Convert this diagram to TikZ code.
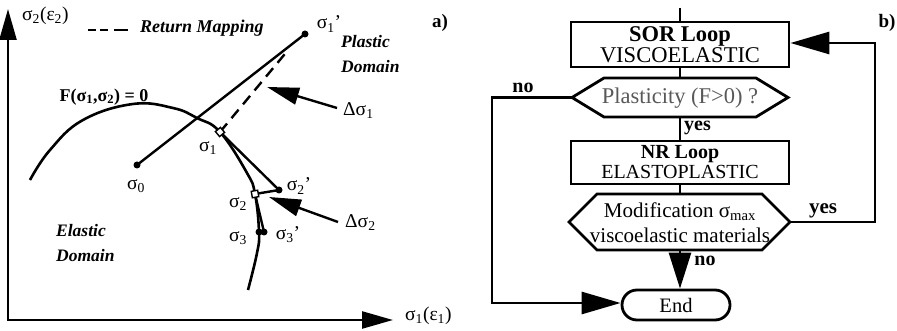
\documentclass[tikz,border=0pt]{standalone}
\usepackage{fontspec}
\setmainfont{Liberation Serif}
\usetikzlibrary{arrows.meta}
\begin{document}
\begin{tikzpicture}[x=1pt,y=-1pt,line width=2.4pt,
  axboth/.style={{Triangle[length=31pt,width=17pt]}-{Triangle[length=31pt,width=17pt]}},
  dtip/.style={-{Triangle[length=32pt,width=17pt]}},
  ftip/.style={-{Triangle[length=39pt,width=22pt]}},
  dot/.style={circle,fill,inner sep=0pt,minimum size=7pt},
  sq/.style={draw,fill=white,line width=1.4pt,inner sep=0pt,minimum size=6.5pt},
  lbl/.style={font=\fontsize{19.5}{20}\selectfont,inner sep=0pt},
  bi/.style={font=\fontsize{17.5}{25}\selectfont\bfseries\itshape,inner sep=0pt},
  bfl/.style={font=\fontsize{18}{20}\selectfont\bfseries,inner sep=0pt},
  fbox/.style={draw,line width=2.8pt,inner sep=0pt,align=center},
  fline/.style={line width=2.8pt}]
\useasboundingbox (0,0) rectangle (897,331);
% ---------- panel a ----------
\coordinate (O) at (8,320);
\coordinate (Ytip) at (8,9);
\coordinate (Xtip) at (393,320);
\draw[axboth] (Ytip) -- (O) -- (Xtip);
\node[lbl,anchor=west] (ylab) at (21,16) {σ\textsubscript{2}(ε\textsubscript{2})};
\node[lbl,anchor=west] (xlab) at (404,316) {σ\textsubscript{1}(ε\textsubscript{1})};
\node[bfl,font=\fontsize{19}{20}\selectfont\bfseries] (alab) at (440,23) {a)};
\coordinate (lg1) at (88,30);
\coordinate (lg2) at (130,30);
\draw[dash pattern=on 8pt off 4pt on 8pt off 6pt on 14pt] (lg1) -- (lg2);
\node[bi,font=\fontsize{18}{20}\selectfont\bfseries\itshape,anchor=west] (rm) at (139,28) {Return Mapping};
% yield surface
\draw[line width=2.6pt] plot[smooth,tension=0.7] coordinates {(30,180) (50,150) (83,120) (133,104) (173,108) (197,118) (220,132) (247,173) (255,194) (259,232) (257,253) (248,290)};
\node[bfl] (flab) at (104,97) {F(σ\textsubscript{1},σ\textsubscript{2}) = 0};
% points
\coordinate (s0) at (137,165);
\coordinate (s1p) at (305,34);
\coordinate (s1) at (220,132);
\coordinate (s2p) at (279,190);
\coordinate (s2) at (255,194);
\coordinate (s3p) at (264,232);
\coordinate (s3) at (259,232);
\coordinate (rmend) at (289,49);
\draw (s0) -- (s1p);
\draw[dash pattern=on 11pt off 7pt] (s1) -- (rmend);
\draw (s1) -- (s2p) -- (s2);
\draw (s2) -- (s3p) -- (s3);
\node[dot] (d0) at (s0) {};
\node[dot] (d1p) at (s1p) {};
\node[dot] (d2p) at (s2p) {};
\node[dot] (d3p) at (s3p) {};
\node[dot] (d3) at (s3) {};
\node[sq,rotate=40] (q1) at (s1) {};
\node[sq,rotate=10] (q2) at (s2) {};
\node[lbl] (l0) at (136,186) {σ\textsubscript{0}};
\node[lbl] (l1) at (208,148) {σ\textsubscript{1}};
\node[lbl] (l1p) at (329,24) {σ\textsubscript{1}’};
\node[lbl] (l2) at (238,204) {σ\textsubscript{2}};
\node[lbl] (l2p) at (299,186) {σ\textsubscript{2}’};
\node[lbl] (l3) at (238,238) {σ\textsubscript{3}};
\node[lbl] (l3p) at (288,235) {σ\textsubscript{3}’};
% increments
\coordinate (d1t) at (267,87);
\coordinate (d1s) at (337,108);
\draw[dtip] (d1s) -- (d1t);
\node[lbl,anchor=west] (dl1) at (342,111) {Δσ\textsubscript{1}};
\coordinate (d2t) at (269,197);
\coordinate (d2s) at (338,222);
\draw[dtip] (d2s) -- (d2t);
\node[lbl,anchor=west] (dl2) at (344,223) {Δσ\textsubscript{2}};
\node[bi,anchor=north west,align=left] (pd) at (340,34) {Plastic\\Domain};
\node[bi,anchor=north west,align=left] (ed) at (55,223) {Elastic\\Domain};
% ---------- panel b ----------
\node[bfl,font=\fontsize{19}{20}\selectfont\bfseries] (blab) at (887,23) {b)};
\coordinate (top) at (680,8);
\node[fbox,minimum width=218pt,minimum height=45pt,font=\fontsize{22.5}{21}\selectfont] (sor) at (680,44.5) {\textbf{SOR Loop}\\VISCOELASTIC};
\draw[fline] (top) -- (sor.north);
% hexagon 1
\coordinate (h1w) at (572,97.5);
\coordinate (h1e) at (788,97.5);
\coordinate (h1n) at (680,78);
\coordinate (h1s) at (680,117);
\draw[fline,fill=white] (h1w) -- (604,78) -- (756,78) -- (h1e) -- (756,117) -- (604,117) -- cycle;
\node[font=\fontsize{22.5}{24}\selectfont,text=black!65,inner sep=0pt] (h1t) at (680,98) {Plasticity (F>0) ?};
\draw[fline] (sor.south) -- (h1n);
\node[fbox,minimum width=218pt,minimum height=43pt,font=\fontsize{20}{20}\selectfont] (nr) at (680,162.5) {\textbf{NR Loop}\\ELASTOPLASTIC};
\draw[fline] (h1s) -- (nr.north);
\node[bfl,anchor=west,font=\fontsize{20}{20}\selectfont\bfseries] (yes1) at (683,128) {yes};
% hexagon 2
\coordinate (h2w) at (569,222);
\coordinate (h2e) at (790,222);
\coordinate (h2n) at (680,194);
\coordinate (h2s) at (680,250);
\draw[fline,fill=white] (h2w) -- (597,194) -- (762,194) -- (h2e) -- (762,250) -- (597,250) -- cycle;
\node[font=\fontsize{21}{25}\selectfont,inner sep=0pt,align=center] (h2t) at (680,223) {Modification σ\textsubscript{max}\\viscoelastic materials};
\draw[fline] (nr.south) -- (h2n);
\node[fbox,rounded corners=15pt,minimum width=108pt,minimum height=30pt,font=\fontsize{20.5}{22}\selectfont] (end) at (676,305) {End};
\draw[fline,-{Triangle[length=36pt,width=22pt]}] (h2s) -- (h2s |- end.north);
\node[bfl,font=\fontsize{20}{20}\selectfont\bfseries] (no2) at (705,261) {no};
% loops
\coordinate (lc1) at (492,97.5);
\coordinate (lc2) at (492,303);
\draw[fline,ftip] (h1w) -- (lc1) -- (lc2) -- (lc2 -| end.west);
\node[bfl,font=\fontsize{20}{20}\selectfont\bfseries] (no1) at (523,88) {no};
\coordinate (rc1) at (875,222);
\coordinate (rc2) at (875,43);
\draw[fline,ftip] (h2e) -- (rc1) -- (rc2) -- (rc2 -| sor.east);
\node[bfl,font=\fontsize{21}{20}\selectfont\bfseries] (yes2) at (823,211) {yes};
\end{tikzpicture}
\end{document}
